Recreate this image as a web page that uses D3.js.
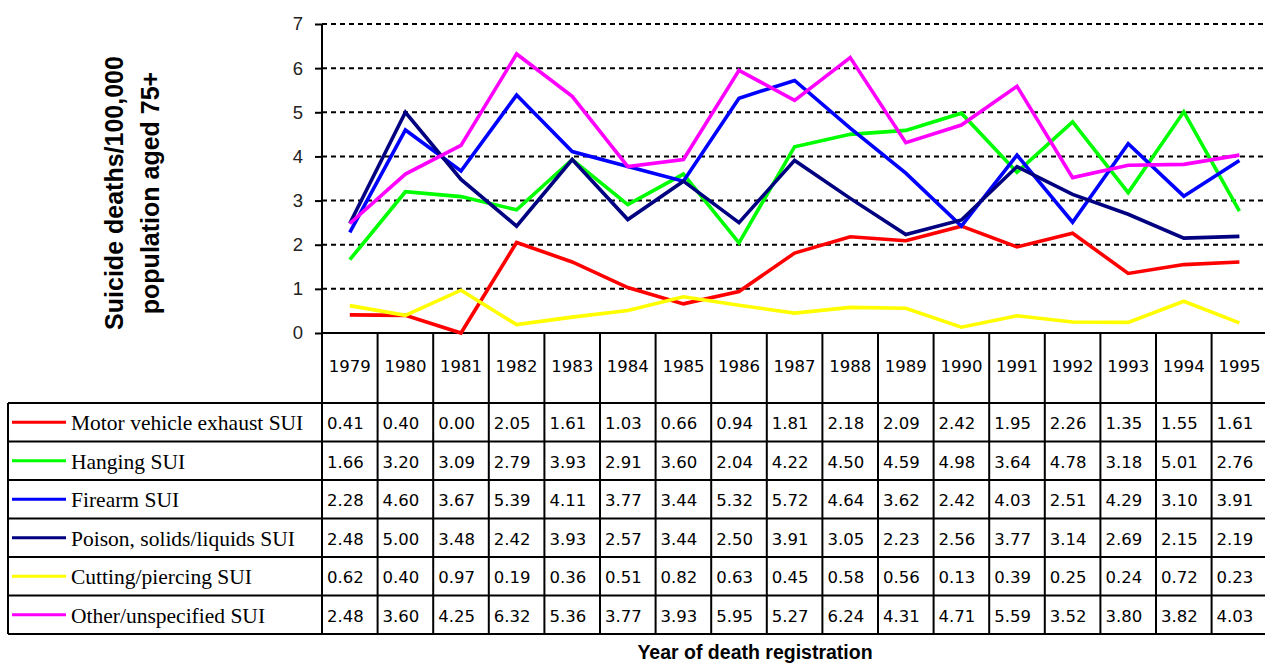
<!DOCTYPE html>
<html>
<head>
<meta charset="utf-8">
<script src="https://cdn.jsdelivr.net/npm/d3@7/dist/d3.min.js"></script>
<style>
  html, body { margin: 0; padding: 0; background: #fff; }
  svg { display: block; }
</style>
</head>
<body>
<svg id="chart" width="1265" height="664"></svg>
<script>
const years = ["1979","1980","1981","1982","1983","1984","1985","1986","1987","1988","1989","1990","1991","1992","1993","1994","1995"];
const seriesNames = ["Motor vehicle exhaust SUI","Hanging SUI","Firearm SUI","Poison, solids/liquids SUI","Cutting/piercing SUI","Other/unspecified SUI"];
const seriesColors = ["#ff0000","#00ff00","#0000ff","#000080","#ffff00","#ff00ff"];
const motor   = [0.41,0.40,0.00,2.05,1.61,1.03,0.66,0.94,1.81,2.18,2.09,2.42,1.95,2.26,1.35,1.55,1.61];
const hanging = [1.66,3.20,3.09,2.79,3.93,2.91,3.60,2.04,4.22,4.50,4.59,4.98,3.64,4.78,3.18,5.01,2.76];
const firearm = [2.28,4.60,3.67,5.39,4.11,3.77,3.44,5.32,5.72,4.64,3.62,2.42,4.03,2.51,4.29,3.10,3.91];
const poison  = [2.48,5.00,3.48,2.42,3.93,2.57,3.44,2.50,3.91,3.05,2.23,2.56,3.77,3.14,2.69,2.15,2.19];
const cutting = [0.62,0.40,0.97,0.19,0.36,0.51,0.82,0.63,0.45,0.58,0.56,0.13,0.39,0.25,0.24,0.72,0.23];
const other   = [2.48,3.60,4.25,6.32,5.36,3.77,3.93,5.95,5.27,6.24,4.31,4.71,5.59,3.52,3.80,3.82,4.03];
const seriesValues = [motor, hanging, firearm, poison, cutting, other];
const yTicks = [0,1,2,3,4,5,6,7];
const yTitle = ["Suicide deaths/100,000", "population aged 75+"];
const xTitle = "Year of death registration";

const svg = d3.select("#chart");
const plotLeft = 322, colW = 55.6;
const plotRight = plotLeft + colW * years.length;
const yTop = 24, yBottom = 333;
const tableTop = 403, tableBottom = 634, tableLeft = 8;
const rowH = (tableBottom - tableTop) / seriesNames.length;

const x = d3.scaleBand().domain(years).range([plotLeft, plotRight]).padding(0);
const y = d3.scaleLinear().domain([0, 7]).range([yBottom, yTop]);

// gridlines
svg.append("g").selectAll("line").data(yTicks.filter(t => t > 0)).join("line")
  .attr("x1", plotLeft).attr("x2", 1265)
  .attr("y1", d => y(d)).attr("y2", d => y(d))
  .attr("stroke", "#000").attr("stroke-width", 2)
  .attr("stroke-dasharray", "5,4");

// y axis
const yAxis = d3.axisLeft(y).tickValues(yTicks).tickFormat(d3.format("d")).tickSize(7).tickPadding(12);
const gy = svg.append("g").attr("transform", `translate(${plotLeft},0)`).call(yAxis);
gy.select(".domain").remove();
gy.selectAll(".tick line").attr("stroke", "#000").attr("stroke-width", 2);
gy.selectAll(".tick text").attr("font-family", "Arial, 'Liberation Sans', sans-serif")
  .attr("font-size", 18.5).attr("fill", "#222");

// table structure
const tg = svg.append("g").attr("stroke", "#000").attr("stroke-width", 2).attr("fill", "none");
tg.append("line").attr("x1", plotLeft).attr("x2", plotLeft).attr("y1", yTop).attr("y2", tableBottom);
tg.append("line").attr("x1", plotLeft).attr("x2", 1265).attr("y1", yBottom).attr("y2", yBottom);
tg.selectAll("line.col").data(years).join("line").attr("class", "col")
  .attr("x1", d => x(d) + x.bandwidth()).attr("x2", d => x(d) + x.bandwidth())
  .attr("y1", yBottom).attr("y2", tableBottom);
const rowLines = d3.range(seriesNames.length + 1);
tg.selectAll("line.row").data(rowLines).join("line").attr("class", "row")
  .attr("x1", tableLeft).attr("x2", 1265)
  .attr("y1", d => tableTop + d * rowH).attr("y2", d => tableTop + d * rowH);
tg.append("line").attr("x1", tableLeft).attr("x2", tableLeft).attr("y1", tableTop).attr("y2", tableBottom);

// year labels
svg.append("g").selectAll("text").data(years).join("text")
  .attr("x", d => x(d) + x.bandwidth() / 2).attr("y", 372)
  .attr("text-anchor", "middle")
  .attr("font-family", "'DejaVu Sans', sans-serif").attr("font-size", 16.5)
  .attr("fill", "#000").text(d => d);

// legend keys, labels and values
const lg = svg.append("g");
seriesNames.forEach((name, i) => {
  const cy = tableTop + i * rowH + rowH / 2;
  lg.append("line").attr("x1", 12).attr("x2", 66).attr("y1", cy).attr("y2", cy)
    .attr("stroke", seriesColors[i]).attr("stroke-width", 3);
  lg.append("text").attr("x", 71).attr("y", cy + 8)
    .attr("font-family", "'Liberation Serif', 'Times New Roman', serif").attr("font-size", 21.5)
    .attr("fill", "#000").text(name);
  lg.append("g").selectAll("text").data(seriesValues[i]).join("text")
    .attr("x", (d, j) => x(years[j]) + 5).attr("y", cy + 7)
    .attr("font-family", "'DejaVu Sans', sans-serif").attr("font-size", 16.5)
    .attr("fill", "#000").text(d => d.toFixed(2));
});

// lines
const line = d3.line().x((d, j) => x(years[j]) + x.bandwidth() / 2).y(d => y(d));
svg.append("g").selectAll("path").data(seriesValues).join("path")
  .attr("d", d => line(d)).attr("fill", "none")
  .attr("stroke", (d, i) => seriesColors[i]).attr("stroke-width", 3.6)
  .attr("stroke-linejoin", "miter");

// axis titles
yTitle.forEach((t, i) => {
  const bx = i === 0 ? 123 : 159;
  svg.append("text").attr("transform", `translate(${bx},193) rotate(-90)`)
    .attr("font-family", "Arial, 'Liberation Sans', sans-serif").attr("font-weight", "bold")
    .attr("font-size", 25).attr("fill", "#000").attr("text-anchor", "middle")
    .text(t);
});
svg.append("text").attr("x", 755).attr("y", 659)
  .attr("font-family", "Arial, 'Liberation Sans', sans-serif").attr("font-weight", "bold")
  .attr("font-size", 19.5).attr("fill", "#000").attr("text-anchor", "middle")
  .text(xTitle);
</script>
</body>
</html>
